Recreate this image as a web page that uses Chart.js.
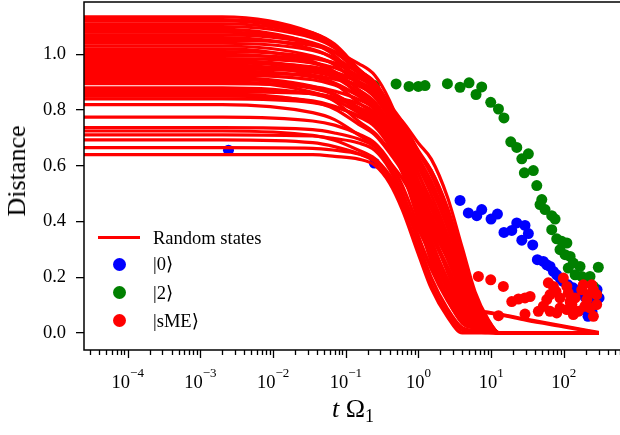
<!DOCTYPE html>
<html lang="en">
<head>
<meta charset="UTF-8">
<title>Distance vs t Ω1</title>
<style>
  html, body { margin: 0; padding: 0; background: #fff; overflow: hidden; }
  #wrap { position: relative; width: 622px; height: 435px; font-family: 'Liberation Serif', 'Times New Roman', 'DejaVu Serif', serif; color: #000; }
  #wrap canvas { position: absolute; left: 0; top: 0; }
  .ttl { position: absolute; font-size: 26px; line-height: 26px; white-space: nowrap; }
  #ylab { left: 17px; top: 171px; transform: translate(-50%, -50%) rotate(-90deg); }
  #xlab { left: 353px; top: 396px; transform: translateX(-50%); }
  #xlab sub { font-size: 18px; vertical-align: -5px; line-height: 0; }
  .lg { position: absolute; left: 98px; height: 20px; display: flex; align-items: center; font-size: 18.5px; line-height: 20px; white-space: nowrap; }
  .lg .ln { width: 42px; height: 3.5px; background: #ff0000; }
  .lg .mk { width: 13px; height: 13px; border-radius: 50%; margin-left: 14.5px; }
  .lg .tx { position: absolute; left: 55px; }
</style>
</head>
<body>
<div id="wrap">
  <canvas id="c" width="622" height="435"></canvas>
  <div class="ttl" id="ylab">Distance</div>
  <div class="ttl" id="xlab"><i>t</i> Ω<sub>1</sub></div>
  <div class="lg" style="top:227.5px"><span class="ln"></span><span class="tx">Random states</span></div>
  <div class="lg" style="top:254px"><span class="mk" style="background:#0000ff"></span><span class="tx">|0⟩</span></div>
  <div class="lg" style="top:282.5px"><span class="mk" style="background:#008000"></span><span class="tx">|2⟩</span></div>
  <div class="lg" style="top:310.5px"><span class="mk" style="background:#ff0000"></span><span class="tx">|sME⟩</span></div>
</div>

<script src="https://cdn.jsdelivr.net/npm/chart.js@4.4.1/dist/chart.umd.min.js"></script>
<script>
// time grid shared by all random-state curves (t Ω1)
const T = [2.5e-5, 2e-3, 0.035, 0.07, 0.15, 0.25, 0.4, 0.6, 1, 1.5, 2.5, 4, 6, 9, 13, 30, 100, 300];

// random state curves, values read along T
const randomStates = [
  [1.135,1.135,1.078,1.033,0.931,0.874,0.806,0.760,0.681,0.624,0.488,0.306,0.148,0.051,0,0,0,0],
  [1.125,1.125,1.077,1.037,0.948,0.895,0.821,0.757,0.648,0.568,0.426,0.258,0.124,0.043,0,0,0,0],
  [1.12,1.12,1.070,1.028,0.936,0.881,0.810,0.753,0.654,0.582,0.444,0.272,0.131,0.045,0,0,0,0],
  [1.11,1.11,1.066,1.028,0.945,0.892,0.817,0.748,0.630,0.544,0.402,0.240,0.115,0.040,0,0,0,0],
  [1.10,1.10,1.059,1.023,0.945,0.894,0.817,0.743,0.616,0.523,0.380,0.223,0.107,0.037,0,0,0,0],
  [1.09,1.09,1.038,0.996,0.903,0.849,0.781,0.731,0.645,0.583,0.450,0.280,0.135,0.047,0,0,0,0],
  [1.08,1.08,1.042,1.009,0.936,0.887,0.809,0.730,0.596,0.497,0.354,0.204,0.098,0.034,0,0,0,0],
  [1.07,1.07,1.038,1.008,0.944,0.897,0.815,0.725,0.574,0.460,0.315,0.173,0.083,0.029,0,0,0,0],
  [1.06,1.06,1.018,0.982,0.902,0.852,0.780,0.714,0.602,0.519,0.384,0.229,0.110,0.038,0,0,0,0],
  [1.05,1.05,1.032,1.010,0.967,0.925,0.834,0.717,0.521,0.373,0.219,0.099,0.048,0.017,0,0,0,0],
  [1.04,1.04,1.014,0.988,0.933,0.889,0.806,0.707,0.541,0.416,0.270,0.140,0.068,0.023,0,0,0,0],
  [1.03,1.03,0.994,0.962,0.892,0.846,0.771,0.696,0.569,0.474,0.338,0.195,0.094,0.032,0,0,0,0],
  [1.02,1.02,0.974,0.936,0.852,0.803,0.737,0.685,0.596,0.530,0.404,0.248,0.119,0.041,0,0,0,0],
  [1.01,1.01,0.990,0.968,0.922,0.881,0.796,0.689,0.509,0.374,0.228,0.109,0.053,0.018,0,0,0,0],
  [1.0,1.0,0.968,0.938,0.874,0.830,0.756,0.677,0.544,0.445,0.311,0.176,0.085,0.029,0,0,0,0],
  [0.995,0.995,0.985,0.969,0.939,0.901,0.810,0.683,0.470,0.308,0.157,0.054,0.026,0.009,0,0,0,0],
  [0.985,0.985,0.970,0.952,0.915,0.876,0.789,0.674,0.481,0.335,0.189,0.080,0.038,0.013,0,0,0,0],
  [0.978,0.978,0.949,0.921,0.863,0.820,0.745,0.663,0.524,0.421,0.288,0.158,0.076,0.026,0,0,0,0],
  [0.97,0.97,0.943,0.918,0.863,0.821,0.745,0.659,0.512,0.403,0.269,0.144,0.069,0.024,0,0,0,0],
  [0.962,0.962,0.926,0.895,0.826,0.782,0.714,0.649,0.539,0.457,0.332,0.195,0.094,0.033,0,0,0,0],
  [0.955,0.955,0.945,0.930,0.902,0.865,0.777,0.655,0.451,0.296,0.151,0.052,0.025,0.009,0,0,0,0],
  [0.948,0.948,0.936,0.920,0.887,0.851,0.766,0.649,0.455,0.308,0.166,0.064,0.031,0.010,0,0,0,0],
  [0.94,0.94,0.919,0.897,0.851,0.812,0.735,0.640,0.481,0.362,0.228,0.114,0.055,0.019,0,0,0,0],
  [0.932,0.932,0.925,0.911,0.887,0.852,0.765,0.640,0.432,0.275,0.131,0.038,0.018,0.007,0,0,0,0],
  [0.925,0.925,0.909,0.890,0.852,0.814,0.735,0.632,0.459,0.328,0.193,0.087,0.042,0.015,0,0,0,0],
  [0.917,0.917,0.885,0.856,0.795,0.753,0.687,0.620,0.506,0.422,0.301,0.173,0.083,0.029,0,0,0,0],
  [0.91,0.91,0.883,0.857,0.803,0.763,0.693,0.617,0.488,0.391,0.268,0.147,0.071,0.025,0,0,0,0],
  [0.902,0.902,0.864,0.832,0.760,0.718,0.658,0.607,0.520,0.456,0.342,0.207,0.100,0.034,0,0,0,0],
  [0.895,0.895,0.884,0.868,0.838,0.803,0.723,0.613,0.430,0.291,0.157,0.060,0.029,0.010,0,0,0,0],
  [0.88,0.88,0.858,0.836,0.790,0.752,0.682,0.598,0.458,0.352,0.229,0.119,0.057,0.020,0,0,0,0],
  [0.872,0.872,0.859,0.842,0.810,0.775,0.698,0.596,0.426,0.296,0.167,0.071,0.034,0.012,0,0,0,0],
  [0.865,0.865,0.859,0.846,0.823,0.791,0.710,0.594,0.401,0.255,0.122,0.035,0.017,0.006,0,0,0,0],
  [0.857,0.857,0.829,0.804,0.749,0.711,0.647,0.580,0.466,0.381,0.267,0.150,0.072,0.025,0,0,0,0],
  [0.85,0.85,0.833,0.814,0.776,0.741,0.670,0.580,0.428,0.315,0.192,0.092,0.044,0.015,0,0,0,0],
  [0.84,0.84,0.827,0.811,0.780,0.747,0.673,0.575,0.410,0.286,0.161,0.068,0.033,0.011,0,0,0,0],
  [0.82,0.82,0.791,0.766,0.711,0.673,0.614,0.554,0.453,0.377,0.269,0.155,0.075,0.026,0,0,0,0],
  [0.775,0.775,0.761,0.746,0.714,0.682,0.616,0.529,0.384,0.275,0.162,0.073,0.035,0.012,0,0,0,0],
  [0.737,0.737,0.730,0.718,0.696,0.668,0.600,0.506,0.348,0.228,0.116,0.040,0.019,0.007,0,0,0,0],
  [0.725,0.725,0.709,0.692,0.656,0.626,0.567,0.494,0.371,0.279,0.176,0.088,0.042,0.015,0,0,0,0],
  [0.711,0.711,0.707,0.698,0.682,0.656,0.588,0.489,0.324,0.199,0.088,0.019,0.009,0.003,0,0,0,0],
  [0.693,0.693,0.683,0.669,0.643,0.616,0.555,0.474,0.338,0.236,0.133,0.056,0.027,0.009,0,0,0,0],
  [0.665,0.665,0.663,0.656,0.643,0.619,0.554,0.458,0.298,0.176,0.071,0.009,0.004,0.001,0,0,0,0],
  [0.64,0.64,0.64,0.634,0.624,0.602,0.538,0.442,0.282,0.160,0.058,0,0,0,0,0,0,0],
  [0.97,0.97,0.955,0.937,0.901,0.862,0.777,0.663,0.473,0.330,0.190,0.110,0.080,0.072,0.066,0.046,0.022,0.0],
  [0.90,0.90,0.878,0.855,0.808,0.770,0.698,0.612,0.468,0.360,0.240,0.130,0.085,0.075,0.068,0.050,0.025,0.002],
];

// |0> points
const zeroT = [0.00243,0.247,3.73,4.85,6.34,7.41,9.96,12.2,15.0,19.2,22.5,29.2,32.5,26.4,37.3,43.2,52.2,58.2,64.6,71.8,79.8,88.5,97.5,114,134,157,195,229,286,268,215,244,184,305];
const zeroD = [0.656,0.610,0.476,0.431,0.421,0.443,0.409,0.427,0.361,0.368,0.395,0.386,0.357,0.333,0.316,0.263,0.257,0.245,0.239,0.221,0.209,0.197,0.185,0.173,0.162,0.148,0.130,0.120,0.156,0.102,0.060,0.077,0.084,0.126];

// |2> points
const twoT = [0.247,0.492,0.741,0.995,1.23,2.50,3.73,4.96,7.41,6.19,9.86,12.6,15.0,18.6,22.5,32.5,26.4,38.0,28.6,42.4,49.7,47.0,55.1,68.1,75.7,68.1,79.8,93.5,110,88.5,104,122,135,115,167,143,176,229,298,207,255,283];
const twoD = [0.888,0.894,0.885,0.885,0.888,0.895,0.882,0.898,0.883,0.856,0.828,0.804,0.772,0.686,0.666,0.643,0.625,0.583,0.575,0.529,0.479,0.461,0.443,0.421,0.409,0.371,0.338,0.329,0.323,0.299,0.281,0.275,0.251,0.233,0.239,0.209,0.203,0.203,0.236,0.185,0.167,0.138];

// |sME> points
const smeT = [6.67,9.86,14.7,12.6,19.2,23.7,29.2,34.3,29.2,44.6,52.2,58.2,64.6,61.2,71.8,78.0,88.5,98.4,110,115,110,129,143,158,176,185,207,229,255,283,255,217,195,135,122,88.5,79.8,64.6,283,242];
const smeD = [0.203,0.191,0.167,0.062,0.113,0.122,0.126,0.131,0.068,0.078,0.096,0.120,0.138,0.180,0.167,0.149,0.126,0.197,0.167,0.144,0.084,0.102,0.126,0.078,0.155,0.173,0.120,0.090,0.155,0.102,0.060,0.138,0.096,0.066,0.113,0.090,0.072,0.078,0.138,0.173];

const yTicks = [0, 0.2, 0.4, 0.6, 0.8, 1.0];
const xMajor = [1e-4, 1e-3, 1e-2, 1e-1, 1, 10, 100];
const xExp = ['\u22124', '\u22123', '\u22122', '\u22121', '0', '1', '2'];

const FONT = "'Liberation Serif', 'Times New Roman', 'DejaVu Serif', serif";
const X_MIN = 2.5e-5, X_MAX = 631;

const xMinor = [];
for (let e = -5; e <= 2; e++) {
  for (let k = 2; k <= 9; k++) {
    const v = k * Math.pow(10, e);
    if (v > X_MIN && v < X_MAX) xMinor.push(v);
  }
}

const pts = (ts, ds) => ts.map((t, i) => ({x: t, y: ds[i]}));

const lineSets = randomStates.map((vals, i) => ({
  label: i === 0 ? 'Random states' : '',
  data: pts(T, vals),
  borderColor: '#ff0000',
  borderWidth: 3.2,
  pointRadius: 0,
  fill: false,
  cubicInterpolationMode: 'monotone',
}));

const dotSet = (label, ts, ds, c) => ({
  label,
  data: pts(ts, ds),
  showLine: false,
  pointRadius: 5.5,
  pointBorderWidth: 0,
  pointBackgroundColor: c,
  pointBorderColor: c,
  borderColor: c,
  backgroundColor: c,
});

const noPad = s => { s.paddingLeft = 0; s.paddingRight = 0; s.paddingTop = 0; s.paddingBottom = 0; };

// frame box plus log x ticks with superscript labels
const frameAxis = {
  id: 'frameAxis',
  afterDraw(chart) {
    const {ctx, chartArea: a} = chart;
    const x = chart.scales.x;
    ctx.save();
    ctx.strokeStyle = '#000';
    ctx.lineWidth = 1.5;
    ctx.strokeRect(a.left, a.top, a.right - a.left, a.bottom - a.top);
    ctx.lineWidth = 1.3;
    ctx.beginPath();
    xMinor.forEach(v => {
      const px = Math.round(x.getPixelForValue(v)) + 0.5;
      ctx.moveTo(px, a.bottom); ctx.lineTo(px, a.bottom + 5);
    });
    xMajor.forEach(v => {
      const px = Math.round(x.getPixelForValue(v)) + 0.5;
      ctx.moveTo(px, a.bottom); ctx.lineTo(px, a.bottom + 8);
    });
    ctx.stroke();
    ctx.fillStyle = '#000';
    ctx.textBaseline = 'alphabetic';
    ctx.textAlign = 'left';
    xMajor.forEach((v, i) => {
      const px = x.getPixelForValue(v);
      ctx.font = '18.5px ' + FONT;
      const w1 = ctx.measureText('10').width;
      ctx.font = '13px ' + FONT;
      const w2 = ctx.measureText(xExp[i]).width;
      const x0 = px - (w1 + w2) / 2;
      ctx.font = '18.5px ' + FONT;
      ctx.fillText('10', x0, 388);
      ctx.font = '13px ' + FONT;
      ctx.fillText(xExp[i], x0 + w1, 377);
    });
    ctx.restore();
  }
};

new Chart(document.getElementById('c'), {
  type: 'line',
  data: {
    datasets: [
      ...lineSets,
      dotSet('|sME\u27e9', smeT, smeD, '#ff0000'),
      dotSet('|2\u27e9', twoT, twoD, '#008000'),
      dotSet('|0\u27e9', zeroT, zeroD, '#0000ff'),
    ]
  },
  options: {
    responsive: false,
    animation: false,
    events: [],
    layout: {autoPadding: false, padding: {top: 2, right: 0, bottom: 85, left: 0}},
    plugins: {legend: {display: false}, tooltip: {enabled: false}},
    scales: {
      x: {type: 'logarithmic', min: X_MIN, max: X_MAX, display: false, afterFit: noPad},
      y: {
        min: -0.061, max: 1.188,
        afterFit: s => { noPad(s); s.width = 84; },
        afterBuildTicks: s => { s.ticks = yTicks.map(v => ({value: v})); },
        grid: {drawOnChartArea: false, drawTicks: true, tickLength: 8, color: '#000', lineWidth: 1.3},
        border: {display: false},
        ticks: {padding: 10, color: '#000', font: {family: FONT, size: 18.5}, callback: v => Number(v).toFixed(1)}
      }
    }
  },
  plugins: [frameAxis]
});
</script>
</body>
</html>
